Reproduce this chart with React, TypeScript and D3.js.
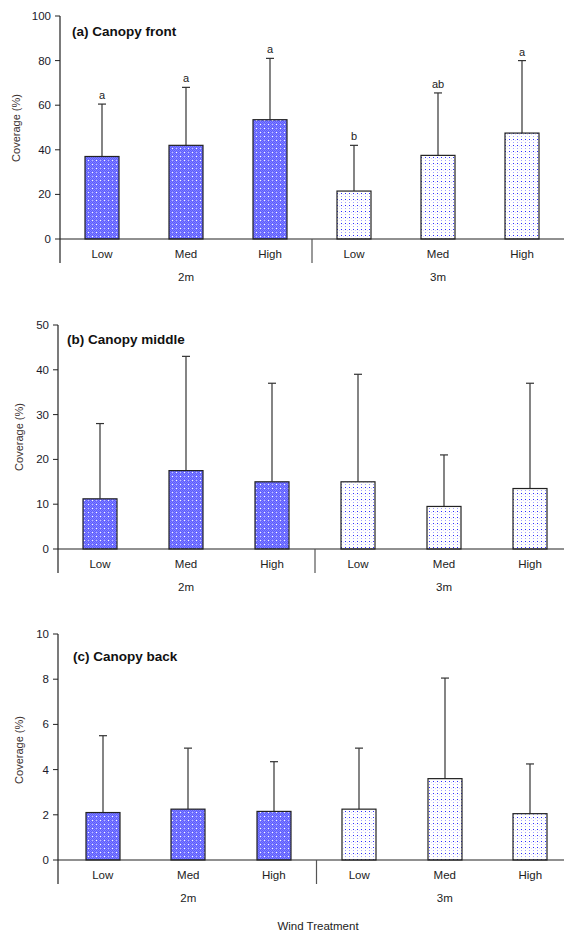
import React from "react";
import * as d3 from "d3";

const categories = ["Low", "Med", "High", "Low", "Med", "High"];
const groups = ["2m", "3m"];
const groupOf = [0, 0, 0, 1, 1, 1];

const frontMeans = [37, 42, 53.5, 21.5, 37.5, 47.5];
const frontTops = [60.5, 68, 81, 42, 65.5, 80];
const frontLetters = ["a", "a", "a", "b", "ab", "a"];

const middleMeans = [11.2, 17.5, 15, 15, 9.5, 13.5];
const middleTops = [28, 43, 37, 39, 21, 37];

const backMeans = [2.1, 2.25, 2.15, 2.25, 3.6, 2.05];
const backTops = [5.5, 4.95, 4.35, 4.95, 8.05, 4.25];

const frontTicks = [0, 20, 40, 60, 80, 100];
const middleTicks = [0, 10, 20, 30, 40, 50];
const backTicks = [0, 2, 4, 6, 8, 10];

const titles = ["(a) Canopy front", "(b) Canopy middle", "(c) Canopy back"];

type Panel = {
  title: string;
  means: number[];
  tops: number[];
  letters?: string[];
  ticks: number[];
  zeroY: number;
  topY: number;
  axisX: number;
  x0: number;
  band: number;
  titleX: number;
  titleY: number;
  labelX: number;
  labelY: number;
};

const panels: Panel[] = [
  { title: titles[0], means: frontMeans, tops: frontTops, letters: frontLetters, ticks: frontTicks,
    zeroY: 239, topY: 16, axisX: 60, x0: 60, band: 84, titleX: 72, titleY: 36, labelX: 16, labelY: 128 },
  { title: titles[1], means: middleMeans, tops: middleTops, ticks: middleTicks,
    zeroY: 549, topY: 325, axisX: 58, x0: 57, band: 86, titleX: 67, titleY: 344, labelX: 19, labelY: 437 },
  { title: titles[2], means: backMeans, tops: backTops, ticks: backTicks,
    zeroY: 860, topY: 634, axisX: 58, x0: 60, band: 85.5, titleX: 73, titleY: 661, labelX: 19, labelY: 750 },
];

const FONT = "Liberation Sans, Arial, sans-serif";

function PanelView({ p }: { p: Panel }) {
  const y = d3.scaleLinear().domain([0, p.ticks[p.ticks.length - 1]]).range([p.zeroY, p.topY]);
  const x = d3.scaleBand<number>().domain(d3.range(6)).range([p.x0, p.x0 + 6 * p.band]).paddingInner(0).paddingOuter(0);
  const barW = 34;
  const sepX = p.x0 + 3 * p.band;
  return (
    <g>
      {p.means.map((m, i) => {
        const cx = Math.round(x(i)! + x.bandwidth() / 2);
        return (
          <g key={i}>
            <line x1={cx} x2={cx} y1={y(m)} y2={y(p.tops[i])} stroke="#333" strokeWidth={1.2} />
            <line x1={cx - 4} x2={cx + 4} y1={y(p.tops[i])} y2={y(p.tops[i])} stroke="#333" strokeWidth={1.2} />
            <rect x={cx - barW / 2} y={y(m)} width={barW} height={p.zeroY - y(m)}
              fill={groupOf[i] === 0 ? `url(#pat2m)` : `url(#pat3m)`} stroke="#222" strokeWidth={1.2} />
            {p.letters && (
              <text x={cx} y={y(p.tops[i]) - 5} textAnchor="middle" fontSize={11} fontFamily={FONT} fill="#222">
                {p.letters[i]}
              </text>
            )}
          </g>
        );
      })}
      <line x1={p.axisX} x2={564} y1={p.zeroY} y2={p.zeroY} stroke="#222" strokeWidth={1.2} />
      <line x1={p.axisX} x2={p.axisX} y1={p.topY} y2={p.zeroY + 24} stroke="#222" strokeWidth={1.2} />
      <line x1={sepX} x2={sepX} y1={p.zeroY} y2={p.zeroY + 24} stroke="#555" strokeWidth={1.2} />
      {p.ticks.map((t) => (
        <g key={t}>
          <line x1={p.axisX - 5} x2={p.axisX} y1={y(t)} y2={y(t)} stroke="#222" strokeWidth={1} />
          <text x={p.axisX - 9} y={y(t) + 4} textAnchor="end" fontSize={11.5} fontFamily={FONT} fill="#1a1a2a">
            {t}
          </text>
        </g>
      ))}
      {categories.map((c, i) => (
        <text key={i} x={x(i)! + x.bandwidth() / 2} y={p.zeroY + 19} textAnchor="middle" fontSize={11.5}
          fontFamily={FONT} fill="#222">
          {c}
        </text>
      ))}
      {groups.map((g, gi) => (
        <text key={g} x={p.x0 + (gi * 3 + 1.5) * p.band} y={p.zeroY + 42} textAnchor="middle" fontSize={11.5}
          fontFamily={FONT} fill="#222">
          {g}
        </text>
      ))}
      <text x={p.titleX} y={p.titleY} fontSize={13.5} fontWeight="bold" fontFamily={FONT} fill="#111">
        {p.title}
      </text>
      <text transform={`translate(${p.labelX},${p.labelY}) rotate(-90)`} textAnchor="middle" fontSize={11}
        fontFamily={FONT} fill="#3a3030" dy="0.35em">
        Coverage (%)
      </text>
    </g>
  );
}

const tile8 = d3.range(64).map((k) => ({ px: k % 8, py: Math.floor(k / 8) }));

export default function App() {
  return (
    <svg width={564} height={935} style={{ position: "absolute", left: 0, top: 0, background: "#fff" }}>
      <defs>
        <pattern id="pat2m" width={8} height={8} patternUnits="userSpaceOnUse">
          <rect width={8} height={8} fill="#8080ff" />
          {tile8
            .filter((c) => (c.px + c.py) % 2 === 0)
            .map((c, k) => (
              <rect key={k} x={c.px} y={c.py} width={1} height={1} fill="#5c5cff" />
            ))}
          <rect x={0} y={0} width={1} height={1} fill="#ffffff" />
          <rect x={4} y={4} width={1} height={1} fill="#ffffff" />
          <rect x={4} y={0} width={1} height={1} fill="#c0c0ff" />
          <rect x={0} y={4} width={1} height={1} fill="#c0c0ff" />
        </pattern>
        <pattern id="pat3m" width={4} height={6} patternUnits="userSpaceOnUse">
          <rect width={4} height={6} fill="#ffffff" />
          <rect x={1} y={1} width={1} height={1} fill="#2a2aff" />
          <rect x={1} y={4} width={1} height={1} fill="#a0a0ff" />
          <rect x={3} y={2} width={1} height={1} fill="#d4d4ff" />
        </pattern>
      </defs>
      {panels.map((p, i) => (
        <PanelView key={i} p={p} />
      ))}
      <text x={318} y={930} textAnchor="middle" fontSize={11.5} fontFamily={FONT} fill="#222">
        Wind Treatment
      </text>
    </svg>
  );
}
